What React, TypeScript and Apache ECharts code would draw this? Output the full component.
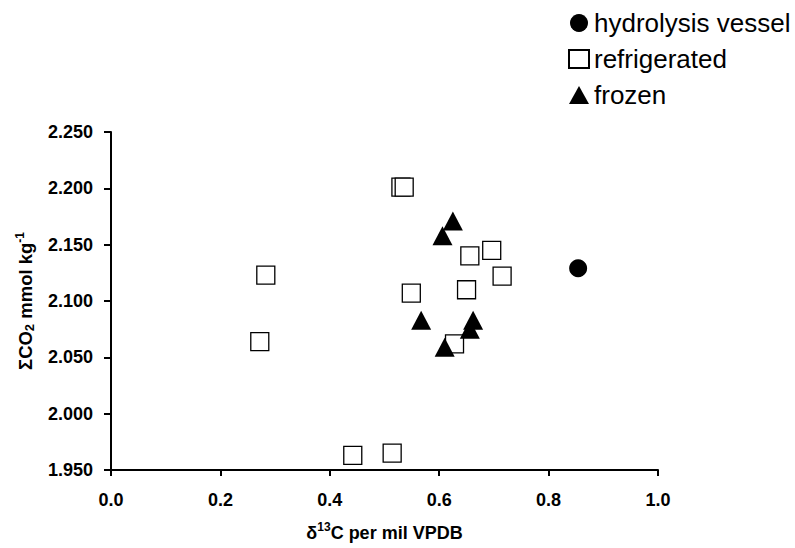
import React, { useEffect, useRef } from "react";
import * as echarts from "echarts";

const hydrolysisVessel: [number, number][] = [[0.854, 2.129]];

const refrigerated: [number, number][] = [
  [0.53, 2.201],
  [0.536, 2.201],
  [0.656, 2.14],
  [0.696, 2.145],
  [0.715, 2.122],
  [0.549, 2.107],
  [0.65, 2.11],
  [0.628, 2.062],
  [0.283, 2.123],
  [0.272, 2.064],
  [0.442, 1.963],
  [0.514, 1.965],
];

const frozen: [number, number][] = [
  [0.625, 2.171],
  [0.606, 2.158],
  [0.567, 2.083],
  [0.662, 2.083],
  [0.656, 2.075],
  [0.61, 2.059],
];

const seriesNames = ["hydrolysis vessel", "refrigerated", "frozen"];

const FONT = "'Liberation Sans', Arial, Helvetica, sans-serif";

export default function App() {
  const ref = useRef<HTMLDivElement>(null);
  useEffect(() => {
    if (!ref.current) return;
    const chart = echarts.init(ref.current, undefined, { renderer: "svg" });
    const axisLine = { show: true, lineStyle: { color: "#000", width: 2 } };
    chart.setOption({
      animation: false,
      backgroundColor: "#fff",
      textStyle: { fontFamily: FONT },
      grid: { left: 111, right: 137, top: 132, bottom: 78, containLabel: false },
      legend: {
        orient: "vertical",
        left: 563,
        top: 5,
        itemWidth: 20,
        itemHeight: 18,
        itemGap: 10,
        textStyle: { fontSize: 26, color: "#000", fontFamily: FONT },
        data: [
          { name: seriesNames[0], icon: "circle" },
          { name: seriesNames[1], icon: "rect" },
          { name: seriesNames[2], icon: "triangle" },
        ],
      },
      xAxis: {
        type: "value",
        min: 0,
        max: 1,
        interval: 0.2,
        axisLine,
        axisTick: { show: true, length: 6, lineStyle: { color: "#000", width: 2 } },
        splitLine: { show: false },
        axisLabel: {
          margin: 21,
          fontSize: 18,
          fontWeight: "bold",
          color: "#000",
          fontFamily: FONT,
          formatter: (v: number) => v.toFixed(1),
        },
        name: "{a|δ}{s|13}{a|C per mil VPDB}",
        nameLocation: "middle",
        nameGap: 51,
        nameTextStyle: {
          rich: {
            a: { fontSize: 18, fontWeight: "bold", color: "#000", fontFamily: FONT, lineHeight: 21, verticalAlign: "bottom" },
            s: { fontSize: 12, fontWeight: "bold", color: "#000", fontFamily: FONT, lineHeight: 21, verticalAlign: "top" },
          },
        },
      },
      yAxis: {
        type: "value",
        min: 1.95,
        max: 2.25,
        interval: 0.05,
        axisLine,
        axisTick: { show: true, length: 7, lineStyle: { color: "#000", width: 2 } },
        splitLine: { show: false },
        axisLabel: {
          margin: 18,
          fontSize: 18,
          fontWeight: "bold",
          color: "#000",
          fontFamily: FONT,
          formatter: (v: number) => v.toFixed(3),
        },
        name: "{a|ΣCO}{b|2}{a| mmol kg}{s|-1}",
        nameLocation: "middle",
        nameGap: 75,
        nameRotate: 90,
        nameTextStyle: {
          rich: {
            a: { fontSize: 18.5, fontWeight: "bold", color: "#000", fontFamily: FONT, lineHeight: 22, verticalAlign: "middle" },
            b: { fontSize: 13, fontWeight: "bold", color: "#000", fontFamily: FONT, lineHeight: 22, verticalAlign: "bottom" },
            s: { fontSize: 12, fontWeight: "bold", color: "#000", fontFamily: FONT, lineHeight: 22, verticalAlign: "top" },
          },
        },
      },
      series: [
        {
          name: seriesNames[0],
          type: "scatter",
          symbol: "circle",
          symbolSize: 18,
          itemStyle: { color: "#000", opacity: 1 },
          data: hydrolysisVessel,
          z: 3,
        },
        {
          name: seriesNames[1],
          type: "scatter",
          symbol: "rect",
          symbolSize: 18,
          itemStyle: { color: "#fff", borderColor: "#000", borderWidth: 1.3, opacity: 1 },
          data: refrigerated,
          z: 2,
        },
        {
          name: seriesNames[2],
          type: "scatter",
          symbol: "triangle",
          symbolSize: [20, 19],
          itemStyle: { color: "#000", opacity: 1 },
          data: frozen,
          z: 4,
        },
      ],
    });
    return () => chart.dispose();
  }, []);
  return <div ref={ref} style={{ width: 795, height: 548, position: "absolute", left: 0, top: 0 }} />;
}
